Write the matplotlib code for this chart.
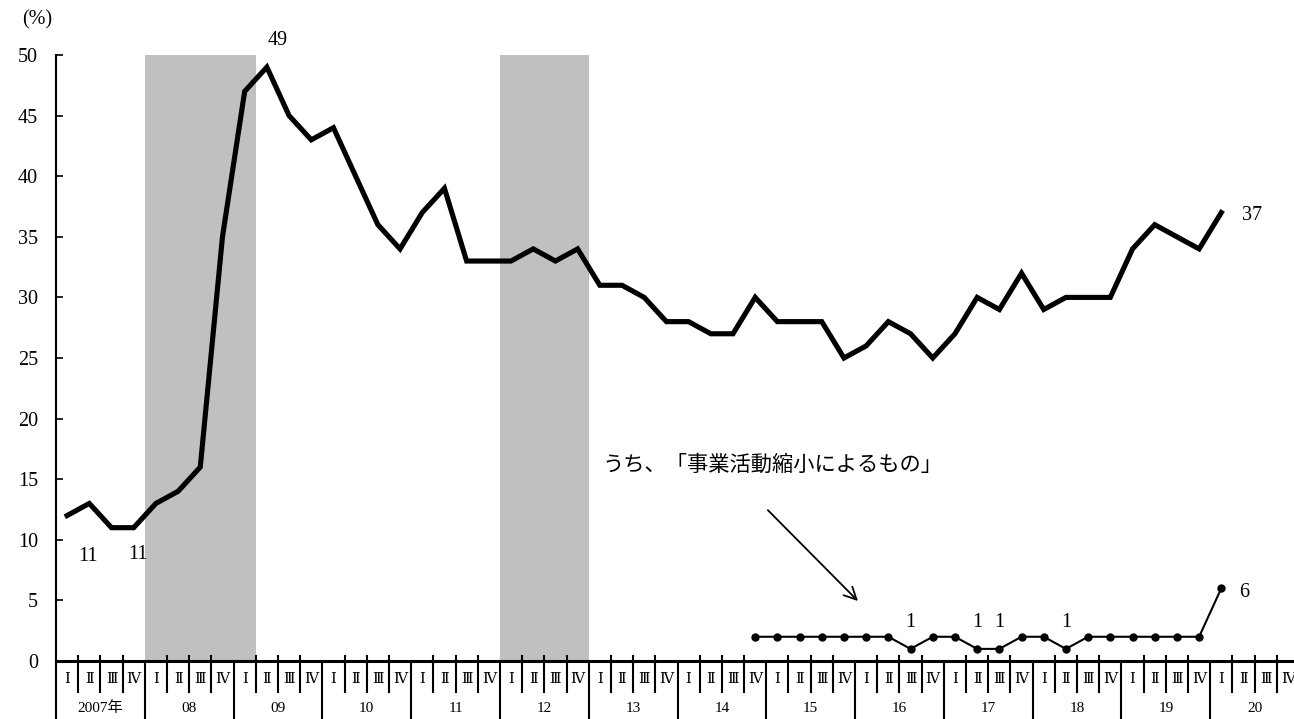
import matplotlib
matplotlib.use('Agg')
import matplotlib.pyplot as plt
import matplotlib.transforms as mtransforms

# 四半期データ (2007年Ⅰ期 ～ 2020年Ⅰ期)
years = ['2007年', '08', '09', '10', '11', '12', '13', '14',
         '15', '16', '17', '18', '19', '20']
quarters = ['Ⅰ', 'Ⅱ', 'Ⅲ', 'Ⅳ']
main_values = [12, 13, 11, 11,   13, 14, 16, 35,   47, 49, 45, 43,
               44, 40, 36, 34,   37, 39, 33, 33,   33, 34, 33, 34,
               31, 31, 30, 28,   28, 27, 27, 30,   28, 28, 28, 25,
               26, 28, 27, 25,   27, 30, 29, 32,   29, 30, 30, 30,
               34, 36, 35, 34,   37]
# うち「事業活動縮小によるもの」 (2014年Ⅳ期 ～ 2020年Ⅰ期)
sub_start = ('14', 4)
sub_values = [2,   2, 2, 2, 2,   2, 2, 1, 2,   2, 1, 1, 2,
              2, 1, 2, 2,   2, 2, 2, 2,   6]
# 景気後退期 (開始年, 開始期, 終了年, 終了期)
recessions = [('08', 1, '09', 1), ('12', 1, '12', 4)]

jp = ['Liberation Serif', 'DejaVu Serif', 'Noto Sans CJK JP']
plt.rcParams['font.family'] = jp


def qidx(year, q):
    return years.index(year) * 4 + (q - 1)


n_q = len(years) * 4
fig = plt.figure(figsize=(12.94, 7.19), dpi=100)
ax = fig.add_axes([56 / 1294, 58 / 719, 1243 / 1294, 606 / 719])

for y0, q0, y1, q1 in recessions:
    ax.axvspan(qidx(y0, q0), qidx(y1, q1) + 1, ymin=0, ymax=1,
               color='#c0c0c0', lw=0, zorder=0)

x_main = [i + 0.5 for i in range(len(main_values))]
ax.plot(x_main, main_values, color='black', lw=3.7, zorder=3,
        solid_joinstyle='miter')

s0 = qidx(*sub_start)
x_sub = [s0 + i + 0.5 for i in range(len(sub_values))]
ax.plot(x_sub, sub_values, color='black', lw=1.5, marker='o',
        markersize=5, zorder=3)

# データラベル
lab_kw = dict(textcoords='offset points', ha='center', va='center',
              fontsize=14.5, annotation_clip=False)
ax.annotate(str(main_values[2]), (x_main[2], main_values[2]), xytext=(-17, -21), **lab_kw)
ax.annotate(str(main_values[3]), (x_main[3], main_values[3]), xytext=(3, -19.5), **lab_kw)
ax.annotate(str(main_values[9]), (x_main[9], main_values[9]), xytext=(8, 19), **lab_kw)
ax.annotate(str(main_values[-1]), (x_main[-1], main_values[-1]), xytext=(22, -2), **lab_kw)
for xi, v in zip(x_sub, sub_values):
    if v == 1:
        ax.annotate(str(v), (xi, v), xytext=(0, 19), **lab_kw)
ax.annotate(str(sub_values[-1]), (x_sub[-1], sub_values[-1]), xytext=(16.5, -3), **lab_kw)

ax.annotate('', xy=(36.13, 4.95), xytext=(32.07, 12.45),
            arrowprops=dict(arrowstyle='->', color='black', lw=1.3,
                            mutation_scale=22, shrinkA=0, shrinkB=0))
ax.text(32.3, 16.2, 'うち、「事業活動縮小によるもの」', ha='center', va='center',
        fontsize=15.3, family=['Noto Sans CJK JP'])

ax.set_xlim(0, n_q)
ax.set_ylim(0, 50)
ax.set_yticks(range(0, 51, 5))
ax.tick_params(axis='y', direction='in', length=5, width=1.2, pad=13,
               labelsize=14.5)
ax.set_xticks([])
for side in ['top', 'right', 'bottom']:
    ax.spines[side].set_visible(False)
ax.spines['left'].set_linewidth(1.5)
ax.axhline(0, color='black', lw=2.2, zorder=4, clip_on=False)

# 横軸の目盛と区切り線
trans = mtransforms.blended_transform_factory(ax.transData, ax.transAxes)
for i in range(n_q + 1):
    if i % 4 == 0:
        ax.plot([i, i], [0, -0.1], color='black', lw=1.5,
                transform=trans, clip_on=False)
    else:
        ax.plot([i, i], [0.009, -0.051], color='black', lw=1.5,
                transform=trans, clip_on=False)
for i in range(n_q):
    ax.text(i + 0.5, -0.031, quarters[i % 4], transform=trans,
            ha='center', va='center', fontsize=10.5)
for k, yr in enumerate(years):
    ax.text(k * 4 + 2, -0.078, yr, transform=trans, ha='center',
            va='center', fontsize=11)

fig.text(37 / 1294, 1 - 20 / 719, '(%)', ha='center', va='center',
         fontsize=14.5)

fig.savefig('out.png', dpi=100)
